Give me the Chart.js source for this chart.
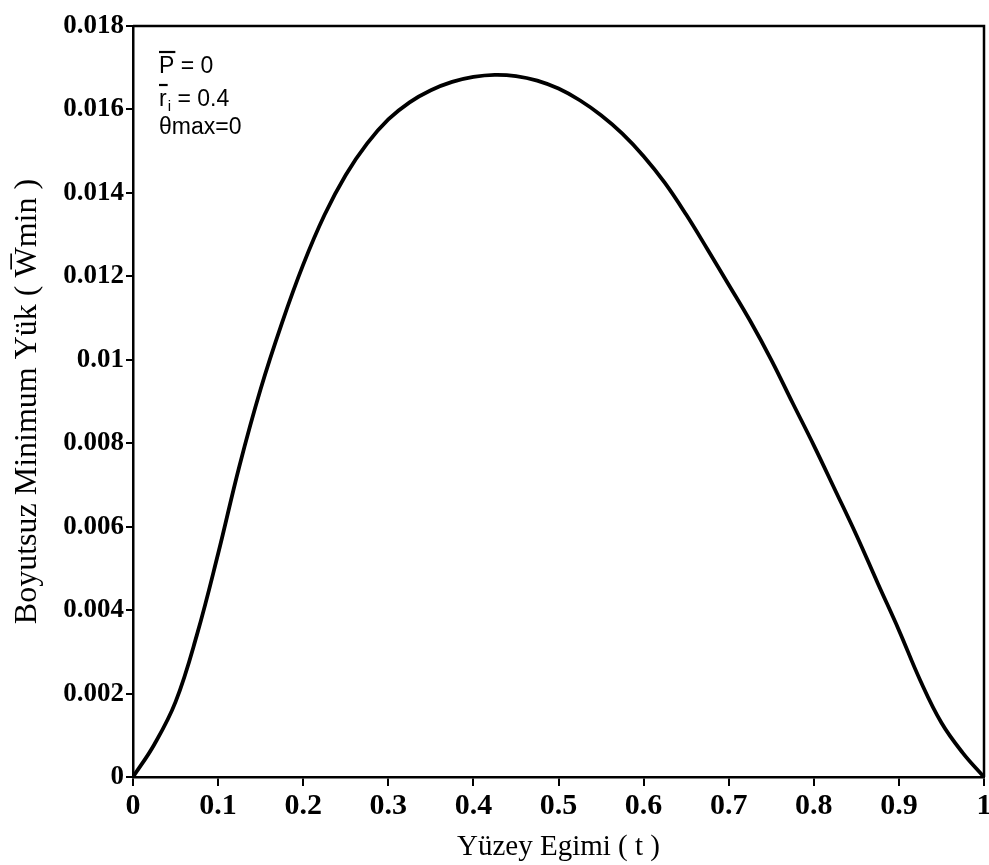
<!DOCTYPE html>
<html>
<head>
<meta charset="utf-8">
<script src="https://cdn.jsdelivr.net/npm/chart.js@4.4.1/dist/chart.umd.min.js"></script>
<style>
  html, body { margin: 0; padding: 0; background: #ffffff; }
  #wrap { width: 989px; height: 865px; }
</style>
</head>
<body>
<div id="wrap"><canvas id="c" width="989" height="865"></canvas></div>
<script>
// ---- data ----
const tValues = [0, 0.025, 0.05, 0.075, 0.1, 0.125, 0.15, 0.175, 0.2, 0.225, 0.25, 0.275, 0.3, 0.325, 0.35, 0.375, 0.4, 0.425, 0.45, 0.475, 0.5, 0.525, 0.55, 0.575, 0.6, 0.625, 0.65, 0.675, 0.7, 0.725, 0.75, 0.775, 0.8, 0.825, 0.85, 0.875, 0.9, 0.925, 0.95, 0.975, 1.0];
const wMinValues = [0, 0.00078, 0.00180, 0.00340, 0.00535, 0.00745, 0.00930, 0.01088, 0.01228, 0.01347, 0.01443, 0.01518, 0.01576, 0.01617, 0.01646, 0.01666, 0.01678, 0.01683, 0.01680, 0.01669, 0.01650, 0.01622, 0.01586, 0.01542, 0.01488, 0.01424, 0.01348, 0.01265, 0.01180, 0.01094, 0.01000, 0.00897, 0.00795, 0.00688, 0.00580, 0.00465, 0.00352, 0.00232, 0.00130, 0.00058, 0];
const xTickLabels = ["0", "0.1", "0.2", "0.3", "0.4", "0.5", "0.6", "0.7", "0.8", "0.9", "1"];
const yTickLabels = ["0", "0.002", "0.004", "0.006", "0.008", "0.01", "0.012", "0.014", "0.016", "0.018"];
const xTitle = "Yüzey Egimi ( t )";
const yTitle = "Boyutsuz Minimum Yük ( W\u0305min )";
const paramLines = [
  { main: "P", sub: "", rest: " = 0", bar: true },
  { main: "r", sub: "i", rest: " = 0.4", bar: true },
  { main: "\u03B8max=0", sub: "", rest: "", bar: false }
];

const points = tValues.map((t, i) => ({ x: t, y: wMinValues[i] }));

const boxPlugin = {
  id: 'boxPlugin',
  afterDatasetsDraw(chart) {
    const { ctx, chartArea: a } = chart;
    ctx.save();
    ctx.strokeStyle = '#000';
    ctx.lineWidth = 2.5;
    ctx.beginPath();
    ctx.moveTo(a.left, a.top);
    ctx.lineTo(a.right, a.top);
    ctx.lineTo(a.right, a.bottom);
    ctx.stroke();
    ctx.restore();
  }
};

const paramPlugin = {
  id: 'paramPlugin',
  afterDraw(chart) {
    const { ctx, chartArea: a } = chart;
    ctx.save();
    ctx.fillStyle = '#000';
    ctx.strokeStyle = '#000';
    ctx.textBaseline = 'alphabetic';
    const x0 = a.left + 26;
    const baselines = [a.top + 47, a.top + 80, a.top + 108];
    const big = '23px "Liberation Sans", Arial, sans-serif';
    const small = '15px "Liberation Sans", Arial, sans-serif';
    paramLines.forEach((ln, i) => {
      const y = baselines[i];
      ctx.font = big;
      let x = x0;
      ctx.fillText(ln.main, x, y);
      const wMain = ctx.measureText(ln.main).width;
      if (ln.bar) {
        ctx.lineWidth = 2.2;
        ctx.beginPath();
        ctx.moveTo(x, y - 21);
        ctx.lineTo(x + wMain + 1, y - 21);
        ctx.stroke();
      }
      x += wMain;
      if (ln.sub) {
        ctx.font = small;
        ctx.fillText(ln.sub, x + 1, y + 5);
        x += ctx.measureText(ln.sub).width + 1;
        ctx.font = big;
      }
      ctx.fillText(ln.rest, x, y);
    });
    ctx.restore();
  }
};

new Chart(document.getElementById('c'), {
  type: 'scatter',
  data: {
    datasets: [{
      data: points,
      showLine: true,
      borderColor: '#000000',
      borderWidth: 3.8,
      pointRadius: 0,
      fill: false,
      tension: 0.4
    }]
  },
  options: {
    responsive: false,
    animation: false,
    devicePixelRatio: 1,
    layout: { padding: { left: 0, top: 26, right: 5, bottom: 0 } },
    plugins: { legend: { display: false }, tooltip: { enabled: false } },
    scales: {
      x: {
        type: 'linear',
        min: 0, max: 1,
        afterFit(s) { s.height = 88; s.paddingRight = 0; s.paddingLeft = 0; },
        afterBuildTicks(s) { s.ticks = xTickLabels.map((l, i) => ({ value: i / 10 })); },
        ticks: {
          color: '#000',
          padding: 2,
          maxRotation: 0,
          autoSkip: false,
          font: { family: '"Liberation Serif", "Times New Roman", serif', size: 30, weight: 'bold' },
          callback: (v, i) => xTickLabels[i]
        },
        grid: { display: true, drawOnChartArea: false, drawTicks: true, tickLength: 9, color: '#000', lineWidth: 2 },
        border: { display: true, color: '#000', width: 2.5 },
        title: {
          display: true,
          text: xTitle,
          color: '#000',
          padding: { top: 0, bottom: 0 },
          font: { family: '"Liberation Serif", "Times New Roman", serif', size: 29, weight: 'normal' }
        }
      },
      y: {
        type: 'linear',
        min: 0, max: 0.018,
        afterFit(s) { s.width = 133; s.paddingTop = 0; s.paddingBottom = 0; },
        afterBuildTicks(s) { s.ticks = yTickLabels.map((l, i) => ({ value: i * 0.002 })); },
        ticks: {
          color: '#000',
          padding: 2,
          autoSkip: false,
          font: { family: '"Liberation Serif", "Times New Roman", serif', size: 27, weight: 'bold' },
          callback: (v, i) => yTickLabels[i]
        },
        grid: { display: true, drawOnChartArea: false, drawTicks: true, tickLength: 7, color: '#000', lineWidth: 2 },
        border: { display: true, color: '#000', width: 2.5 },
        title: {
          display: true,
          text: yTitle,
          color: '#000',
          padding: { top: 8, bottom: 0 },
          font: { family: '"Liberation Serif", "DejaVu Serif", serif', size: 32, weight: 'normal' }
        }
      }
    }
  },
  plugins: [boxPlugin, paramPlugin]
});
</script>
</body>
</html>
